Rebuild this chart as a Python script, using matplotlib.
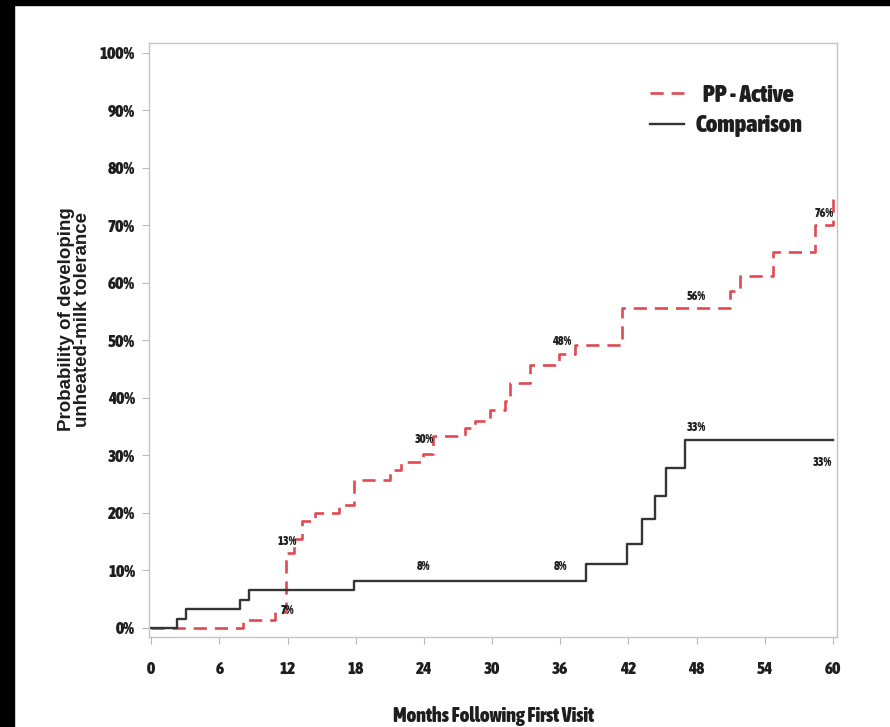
import numpy as np
import matplotlib
matplotlib.use("Agg")
import matplotlib.pyplot as plt
from matplotlib import font_manager, patheffects
from matplotlib.font_manager import FontProperties
from matplotlib.patches import Rectangle

# cumulative probability (%) of developing unheated-milk tolerance
active_months = [0, 8.1, 10.9, 11.9, 12.6, 13.3, 14.4, 16.5, 17.8, 21.0, 22.0, 23.9, 24.8,
                 27.6, 28.5, 29.8, 31.1, 31.6, 33.3, 35.9, 37.3, 41.4, 50.9, 51.8, 54.7, 58.4, 60.0]
active_prob = [0, 1.4, 2.8, 13.0, 15.5, 18.5, 19.9, 21.4, 25.7, 27.4, 28.9, 30.2, 33.4,
               34.7, 35.9, 37.9, 39.4, 42.6, 45.7, 47.6, 49.2, 55.6, 58.5, 61.2, 65.3, 70.1, 75.6]

comp_months = [0, 2.3, 3.1, 7.8, 8.6, 17.8, 38.3, 41.9, 43.2, 44.3, 45.3, 47.0, 60.0]
comp_prob = [0, 1.6, 3.3, 4.9, 6.6, 8.2, 11.1, 14.6, 19.0, 23.0, 27.8, 32.6, 32.6]

series_names = ["PP - Active", "Comparison"]

# months at which the curves are annotated
active_label_months = [12, 24, 36, 48, 60]
comp_label_months = [12, 24, 36, 48, 60]

x_ticks = [0, 6, 12, 18, 24, 30, 36, 42, 48, 54, 60]
y_ticks = [0, 10, 20, 30, 40, 50, 60, 70, 80, 90, 100]

RED = "#e04a50"
DARK = "#353535"
INK = "#1e1e1e"


def weight_of(f):
    if isinstance(f.weight, int):
        return f.weight
    return font_manager.weight_dict.get(f.weight, 400)


def pick_narrow():
    cands = [f for f in font_manager.fontManager.ttflist
             if ("Narrow" in f.name or "Condensed" in f.name) and f.style == "normal"]
    cands.sort(key=lambda f: ("Liberation" not in f.name, f.name))
    bold = [f for f in cands if weight_of(f) >= 600]
    if bold:
        return bold[0].fname, True
    regular = [f for f in cands if 350 <= weight_of(f) < 600]
    if regular:
        return regular[0].fname, False
    return None, False


NARROW_FILE, NARROW_IS_BOLD = pick_narrow()


def narrow(size):
    if NARROW_FILE:
        return FontProperties(fname=NARROW_FILE, size=size)
    return FontProperties(family="Liberation Sans", weight="bold", size=size * 0.88)


def thicken(size, color=INK):
    # fake a heavier face when only the regular condensed cut is available
    if NARROW_FILE and not NARROW_IS_BOLD:
        return [patheffects.withStroke(linewidth=0.055 * size, foreground=color)]
    return []


def value_at(months, prob, t):
    i = np.searchsorted(months, t, side="right") - 1
    return prob[i]


fig = plt.figure(figsize=(8.9, 7.27), dpi=100)
ax = fig.add_axes([0.1674, 0.1238, 0.7730, 0.8171])

ax.step(active_months, active_prob, where="post", color=RED, lw=1.9,
        linestyle=(0, (5, 3)), label="  " + series_names[0])
ax.step(comp_months, comp_prob, where="post", color=DARK, lw=1.7,
        label=series_names[1])

# value annotations (x shift, y shift) in data units
active_offsets = [(0.0, 2.0), (0.0, 2.5), (0.1, 2.1), (0.0, 2.0), (-0.8, -3.6)]
comp_offsets = [(0.0, -3.6), (0.0, 2.4), (0.0, 2.4), (0.0, 2.2), (-0.9, -3.9)]
for months, prob, label_months, offsets in [
        (active_months, active_prob, active_label_months, active_offsets),
        (comp_months, comp_prob, comp_label_months, comp_offsets)]:
    for t, (dx, dy) in zip(label_months, offsets):
        v = value_at(months, prob, t)
        ax.text(t + dx, v + dy, f"{round(v):d}%", ha="center", va="center",
                fontproperties=narrow(8.8), color="#222222",
                path_effects=thicken(8.8, "#222222"))

ax.set_xlim(-0.2, 60.35)
ax.set_ylim(-1.6, 101.7)
ax.set_xticks(x_ticks)
ax.set_xticklabels([str(t) for t in x_ticks])
ax.set_yticks(y_ticks)
ax.set_yticklabels([f"{t}%" for t in y_ticks])

for lab in ax.get_xticklabels() + ax.get_yticklabels():
    lab.set_fontproperties(narrow(12.5))
    lab.set_color(INK)
    lab.set_path_effects(thicken(12.5))

ax.tick_params(axis="both", direction="out", length=5, width=0.8, color="#b8b8b8")
ax.tick_params(axis="x", pad=12)
ax.tick_params(axis="y", pad=5)
for sp in ax.spines.values():
    sp.set_color("#c4c4c4")
    sp.set_linewidth(1.0)

ax.set_xlabel("Months Following First Visit", fontproperties=narrow(14.5),
              color=INK, va="center", path_effects=thicken(14.5))
ax.xaxis.set_label_coords(0.5, -0.133)
ax.set_ylabel("Probability of developing\nunheated-milk tolerance",
              family=["Liberation Sans", "DejaVu Sans"], fontweight="bold",
              fontsize=13.5, color=INK, linespacing=0.86)
ax.yaxis.set_label_coords(-0.085, 0.535)

leg = ax.legend(loc="upper right", bbox_to_anchor=(0.982, 0.968), frameon=False,
                handlelength=1.4, handletextpad=0.5, labelspacing=0.3,
                prop=narrow(17.5))
for t in leg.get_texts():
    t.set_color(INK)
    t.set_path_effects(thicken(17.5))

# dark frame strips along the left and top edges
fig.patches.append(Rectangle((0, 0), 14 / 890, 1, transform=fig.transFigure,
                             color="black", zorder=10))
fig.patches.append(Rectangle((0, 1 - 5 / 727), 1, 5 / 727, transform=fig.transFigure,
                             color="black", zorder=10))

fig.savefig("out.png", dpi=100, facecolor="white")
